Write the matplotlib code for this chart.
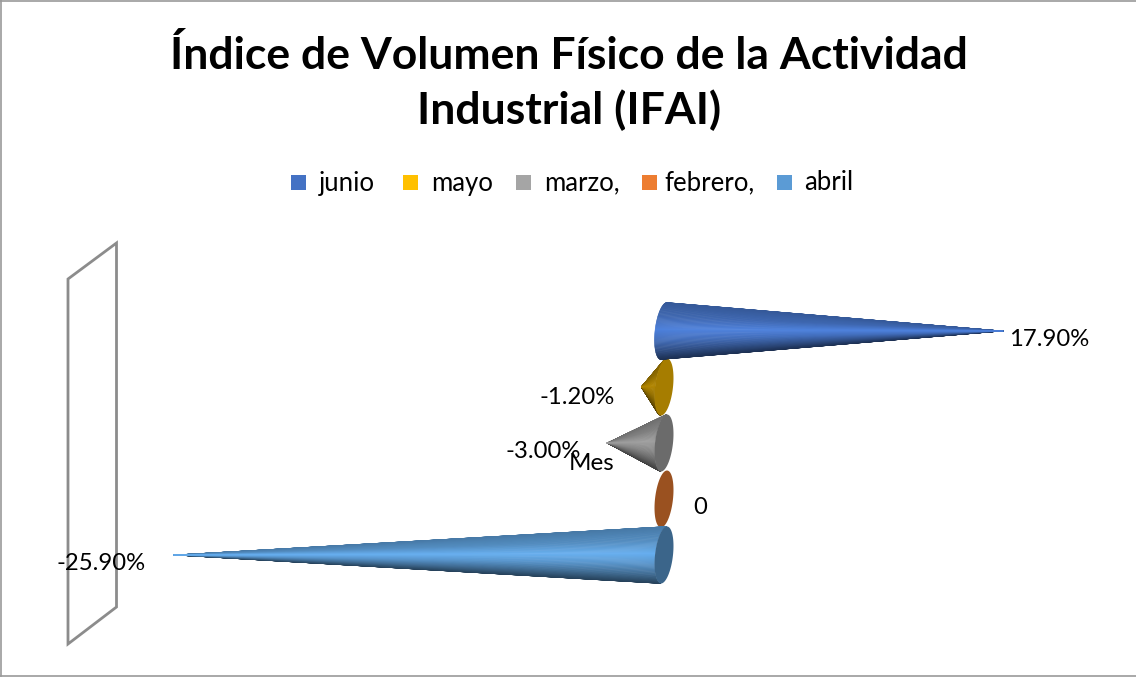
import numpy as np
import matplotlib
matplotlib.use("Agg")
import matplotlib.pyplot as plt
from matplotlib.collections import PolyCollection
from matplotlib.colors import to_rgb
from matplotlib.patches import Polygon, Rectangle

plt.rcParams['font.family'] = ['Lato', 'DejaVu Sans']

# ---- data ----
title = "Índice de Volumen Físico de la Actividad\nIndustrial (IFAI)"
months = ["junio", "mayo", "marzo,", "febrero,", "abril"]
values = [17.9, -1.2, -3.0, 0.0, -25.9]
colors = ["#4472C4", "#FFC000", "#A5A5A5", "#ED7D31", "#5B9BD5"]
cone_gain = [1.0, 0.62, 0.85, 1.0, 1.0]
axis_label = "Mes"

W, H = 1136, 677
fig = plt.figure(figsize=(W / 100, H / 100), dpi=100, facecolor="white")

# pixel-space overlay for chart furniture
px = fig.add_axes([0, 0, 1, 1], zorder=3)
px.set_xlim(0, W)
px.set_ylim(H, 0)
px.axis("off")
px.patch.set_alpha(0)

# data axes: x in percent, y in category index
X0, PX_PER_PCT = 664.0, 18.94
Y0, PX_PER_CAT = 331.0, 56.0
ax = fig.add_axes([0, 0, 1, 1], zorder=2)
ax.set_xlim(-X0 / PX_PER_PCT, (W - X0) / PX_PER_PCT)
ax.set_ylim((H - Y0) / PX_PER_CAT, -Y0 / PX_PER_CAT)
ax.axis("off")
ax.patch.set_alpha(0)

RX = 9.0 / PX_PER_PCT
RY = 28.5 / PX_PER_CAT
SHEAR = -3.0 / PX_PER_PCT
PEAK = -0.05


def scale(c, f):
    return tuple(min(1.0, v * f) for v in to_rgb(c))


def shade(c, v, gain):
    # v in [-1, 1], top to bottom of the cone
    stops_v = [-1.0, -0.5, PEAK, 0.3, 0.65, 1.0]
    stops_f = [0.78, 0.90, 1.12, 0.95, 0.70, 0.42]
    return scale(c, gain * float(np.interp(v, stops_v, stops_f)))


def ellipse_pts(y, theta):
    return np.column_stack([RX * np.cos(theta) + SHEAR * np.sin(theta),
                            y + RY * np.sin(theta)])


def draw_cone(y, val, c, gain, z):
    th = np.linspace(np.pi / 2, 3 * np.pi / 2, 91)
    arc = ellipse_pts(y, th)
    tip = np.array([val, y])
    if val != 0:
        tris = []
        for i in range(len(arc) - 1):
            vv = np.sin(0.5 * (th[i] + th[i + 1]))
            tris.append((abs(vv - PEAK), [tip, arc[i], arc[i + 1]], shade(c, vv, gain)))
        # brightest facets last so the point of the cone keeps the mid tone
        tris.sort(key=lambda t: -t[0])
        polys = [t[1] for t in tris]
        cols = [t[2] for t in tris]
        ax.add_collection(PolyCollection(polys, facecolors=cols, edgecolors=cols,
                                         linewidths=0.35, zorder=z))
    if val <= 0:
        full = ellipse_pts(y, np.linspace(0, 2 * np.pi, 120))
        ax.add_patch(Polygon(full, closed=True, facecolor=scale(c, 0.65),
                             edgecolor="none", zorder=z + 0.5))


for order, i in enumerate([1, 2, 3, 4, 0]):
    draw_cone(i, values[i], colors[i], cone_gain[i], 2 + order)

# chart border
px.plot([1, 1], [0, 676], color="#9a9a9a", lw=1.2)
px.plot([0, W], [676, 676], color="#9a9a9a", lw=1.2)
px.plot([0, W], [0.6, 0.6], color="#9a9a9a", lw=1.2)

# axis wall
px.add_patch(Polygon([(68, 279), (116.5, 243), (116.5, 607), (68, 644)], closed=True,
                     fill=False, edgecolor="#8c8c8c", lw=2.0))

# title
px.text(569, 83, title, ha="center", va="center", fontsize=32, fontweight="bold",
        color="black", linespacing=1.38)

# legend
swatch_x = [291, 403, 516, 642, 777]
label_x = [319, 431, 544, 664, 804]
for m, c, sx, lx in zip(months, colors, swatch_x, label_x):
    px.add_patch(Rectangle((sx, 175), 15, 14.5, facecolor=c, edgecolor="none"))
    px.text(lx, 183, m, ha="left", va="center", fontsize=18.5, color="black")

# data labels
lab_x = [1049.5, 577, 543.5, 700.5, 101.5]
lab_y = [340, 397, 452, 508, 564]
for v, lx, ly in zip(values, lab_x, lab_y):
    s = "0" if v == 0 else f"{v:.2f}%"
    px.text(lx, ly, s, ha="center", va="center", fontsize=17.2, color="black")

px.text(591.5, 463, axis_label, ha="center", va="center", fontsize=17.5, color="black")

fig.savefig("out.png", dpi=100)
